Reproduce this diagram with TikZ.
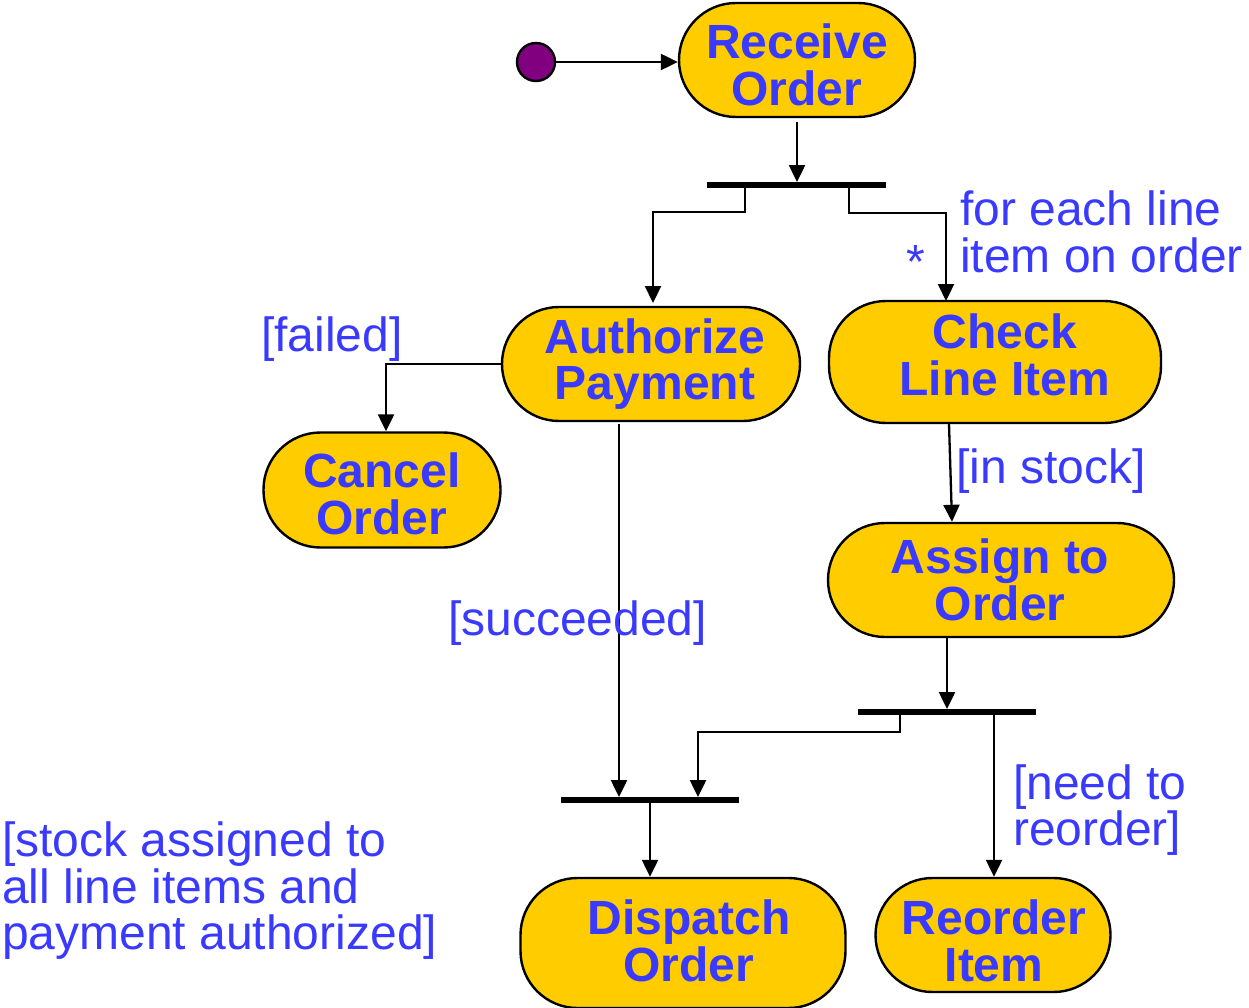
\documentclass[tikz,border=0pt]{standalone}
\usepackage{fontspec}
\setmainfont{Liberation Sans}
\usetikzlibrary{arrows.meta}
\definecolor{actfill}{HTML}{FFCC00}
\definecolor{labelblue}{HTML}{3A3AFF}
\definecolor{startpurple}{HTML}{800080}
\begin{document}
\begin{tikzpicture}[x=1pt,y=-1pt,
  activity/.style={draw=black, line width=2.4pt, fill=actfill, rounded corners=57pt,
    inner sep=0pt},
  acttext/.style={inner sep=0pt, align=center, text=labelblue,
    font=\fontsize{48}{46.5}\selectfont\bfseries},
  syncbar/.style={fill=black, inner sep=0pt, minimum height=5.5pt},
  arr/.style={line width=2.3pt, -{Triangle[length=17pt,width=16pt]}},
  guard/.style={text=labelblue, inner sep=0pt, align=left,
    font=\fontsize{48}{46.5}\selectfont}]
\useasboundingbox (0,0) rectangle (1249,1008);
\begin{scope}
\clip (0,0) rectangle (1249,1008);

% initial state
\node[circle, draw=black, line width=2.4pt, fill=startpurple, minimum size=38pt, inner sep=0pt] (start) at (536,62) {};

% activities: outline
\node[activity, minimum width=236pt, minimum height=114pt] (recv) at (797,60) {};
\node[activity, minimum width=298pt, minimum height=114pt] (auth) at (651,364) {};
\node[activity, minimum width=332pt, minimum height=122pt] (check) at (995,362) {};
\node[activity, minimum width=237pt, minimum height=115pt] (cancel) at (382,490) {};
\node[activity, minimum width=346pt, minimum height=114pt] (assign) at (1001,580) {};
\node[activity, minimum width=325pt, minimum height=130pt] (dispatch) at (683,943) {};
\node[activity, minimum width=235pt, minimum height=114pt] (reorder) at (993,935) {};

% activities: names
\node[acttext] (recvT) at (797,65) {Receive\\Order};
\node[acttext] (authT) at (655,364) {Authorize\\Payment};
\node[acttext] (checkT) at (1005,355) {Check\\Line Item};
\node[acttext] (cancelT) at (382,494) {Cancel\\Order};
\node[acttext] (assignT) at (1000,580) {Assign to\\Order};
\node[acttext] (dispatchT) at (689,941) {Dispatch\\Order};
\node[acttext] (reorderT) at (994,941) {Reorder\\Item};

% synchronisation bars
\node[syncbar, minimum width=179pt] (fork1) at (796.5,185) {};
\node[syncbar, minimum width=178pt] (fork2) at (947,712) {};
\node[syncbar, minimum width=178pt] (join) at (650,800) {};

% branch points on the bars
\coordinate (f1l) at (745,185);
\coordinate (f1r) at (849,185);
\coordinate (f2l) at (900,712);
\coordinate (f2r) at (994,712);
\coordinate (jl) at (619,800);
\coordinate (jr) at (698,800);
\coordinate (jm) at (650,800);

% flows
\draw[arr] (start) -- (recv.west |- start);
\draw[arr] ([yshift=-4pt]recv.south) -- (recv.south |- fork1.north);
\draw[arr] (f1l) |- (653,212) -- (653,303);
\draw[arr] (f1r) |- (946,213) -- (946,301);
\draw[arr] (auth.west) -| (cancel.north -| 386,0);
\draw[arr] (619,424) -- (jl |- join.north);
\draw[arr] ([xshift=-46pt]check.south) -- ([xshift=-49pt]assign.north);
\draw[arr] ([xshift=-54pt]assign.south) -- (fork2.north -| 947,0);
\draw[arr] (f2l) |- (698,732) -- (jr |- join.north);
\draw[arr] (f2r) -- (reorder.north -| f2r);
\draw[arr] (jm) -- (dispatch.north -| jm);
\end{scope}

% guards and annotations
\node[guard, anchor=west] (each) at (960,232) {for each line\\item on order};
\node[guard, anchor=center] (mult) at (916,262) {*};
\node[guard, anchor=west] (failed) at (261,339) {[failed]};
\node[guard, anchor=west] (instock) at (956,471) {[in stock]};
\node[guard, anchor=west] (succ) at (448,623) {[succeeded]};
\node[guard, anchor=west] (need) at (1013,810) {[need to\\reorder]};
\node[guard, anchor=west] (assigned) at (2,891) {[stock assigned to\\all line items and\\payment authorized]};
\end{tikzpicture}
\end{document}
